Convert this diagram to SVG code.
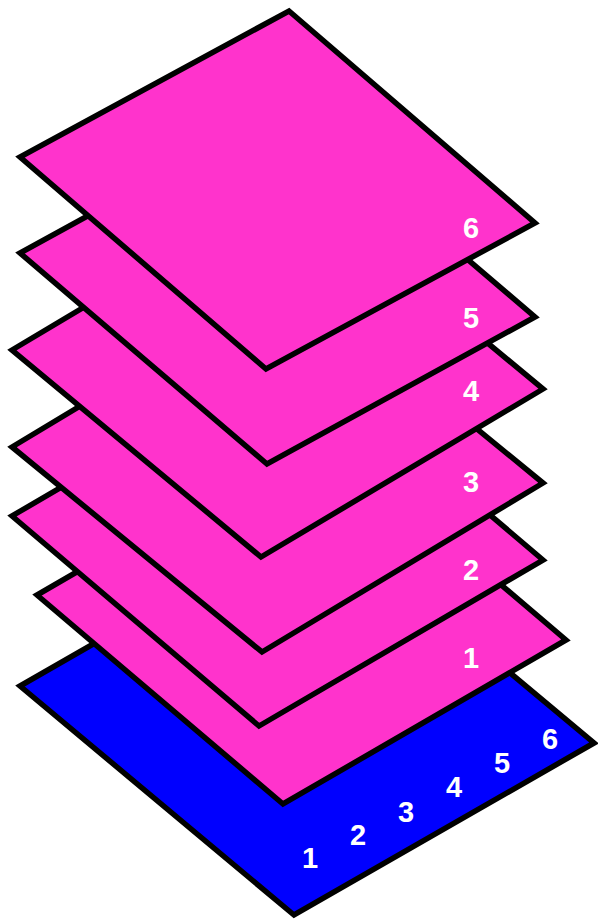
<svg xmlns="http://www.w3.org/2000/svg" width="598" height="922" viewBox="0 0 598 922">
<style>
.sheet{fill:#FF33CC;stroke:#000;stroke-width:5.5;stroke-linejoin:miter;stroke-miterlimit:20}
.base{fill:#0000FF;stroke:#000;stroke-width:5.5;stroke-linejoin:miter;stroke-miterlimit:20}
.lbl{fill:#fff;font-family:"Liberation Sans","DejaVu Sans",sans-serif;font-weight:bold;font-size:29px;text-anchor:middle}
</style>
<rect width="598" height="922" fill="#fff"/>
<g id="base">
<polygon class="base" points="320,514 594,743 294,915 20,686"/>
<text class="lbl" x="310" y="868">1</text>
<text class="lbl" x="358" y="845">2</text>
<text class="lbl" x="406" y="822">3</text>
<text class="lbl" x="454" y="797">4</text>
<text class="lbl" x="502" y="773">5</text>
<text class="lbl" x="550" y="749">6</text>
</g>
<g id="sheet1">
<polygon class="sheet" points="320,431 566,640 283,804 37,595"/>
<text class="lbl" x="471" y="668">1</text>
</g>
<g id="sheet2">
<polygon class="sheet" points="296,350 543,560 259,726 12,516"/>
<text class="lbl" x="471" y="580">2</text>
</g>
<g id="sheet3">
<polygon class="sheet" points="293,278 543,483 262,652 12,447"/>
<text class="lbl" x="471" y="492">3</text>
</g>
<g id="sheet4">
<polygon class="sheet" points="294,182 543,389 261,557 12,350"/>
<text class="lbl" x="471" y="401">4</text>
</g>
<g id="sheet5">
<polygon class="sheet" points="288,106 535,317 267,464 20,253"/>
<text class="lbl" x="471" y="328">5</text>
</g>
<g id="sheet6">
<polygon class="sheet" points="289,11 535,223 266,369 20,157"/>
<text class="lbl" x="471" y="238">6</text>
</g>
</svg>
